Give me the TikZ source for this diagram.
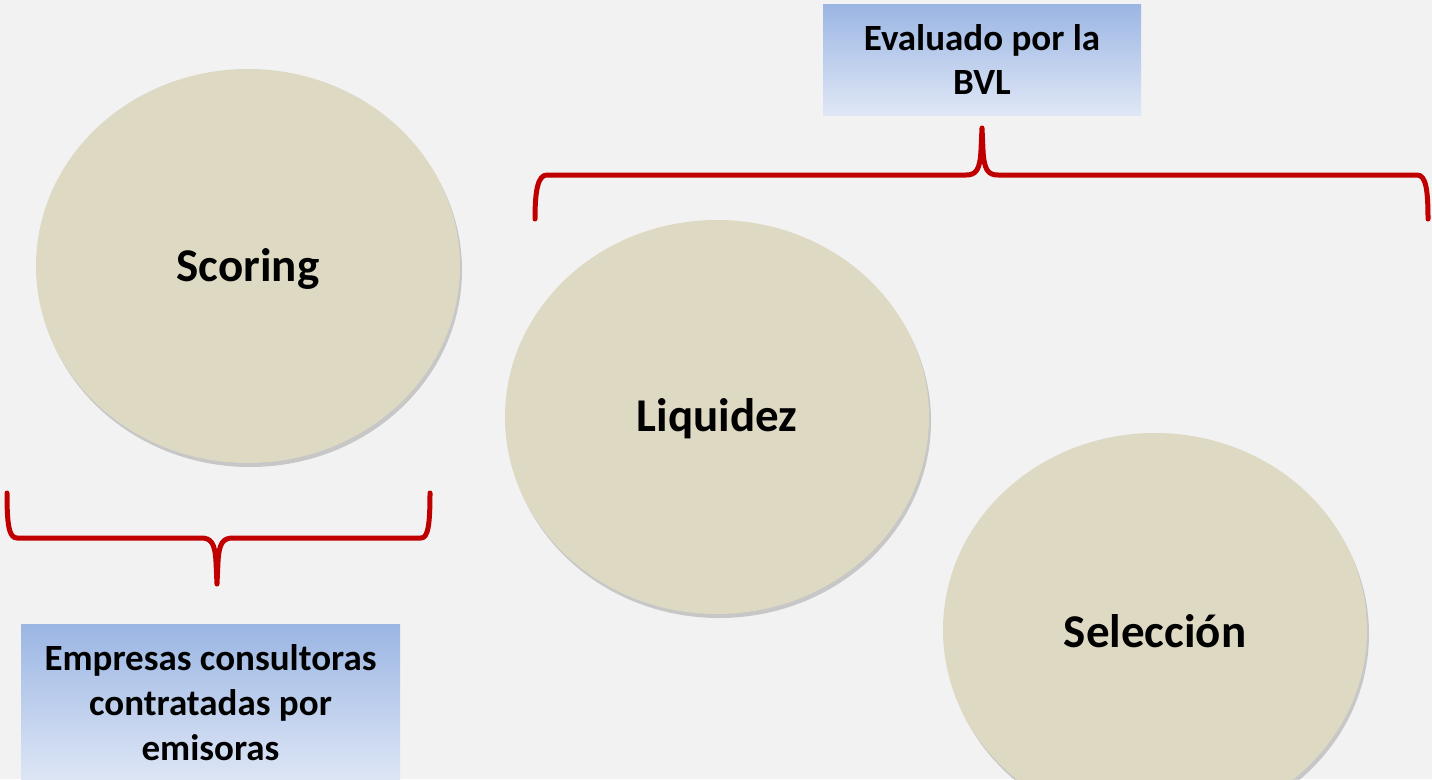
\documentclass[tikz,border=0pt]{standalone}
\usepackage{fontspec}
\setmainfont{Carlito}
\usetikzlibrary{shapes.geometric,shadows}
\definecolor{bgc}{HTML}{F2F2F2}
\definecolor{beige}{HTML}{DDD9C3}
\definecolor{bred}{HTML}{C00000}
\definecolor{btop}{HTML}{9BB6E3}
\definecolor{bbot}{HTML}{DFE7F6}
\tikzset{
  oval/.style={ellipse, fill=beige, minimum width=424pt, minimum height=394pt, inner sep=0pt,
    drop shadow={shadow xshift=2pt, shadow yshift=-4pt, opacity=0.3, fill=black!60}},
  ovaltext/.style={font=\fontsize{47}{52}\selectfont\bfseries, inner sep=0pt},
  infobox/.style={rectangle, top color=btop, bottom color=bbot, inner sep=0pt, align=center,
    font=\fontsize{37}{44}\selectfont\bfseries},
  brace/.style={draw=bred, line width=5pt, line cap=round, line join=round}
}
\begin{document}
\begin{tikzpicture}[x=1pt,y=-1pt]
\useasboundingbox (0,0) rectangle (1432,779);
\fill[bgc] (0,0) rectangle (1432,779);
\clip (0,0) rectangle (1432,779);
% ovals
\node[oval] (scoring) at (248,266) {};
\node[ovaltext] (scoringt) at (248,269) {Scoring};
\node[oval] (liquidez) at (717,417) {};
\node[ovaltext] (liquidezt) at (717,419) {Liquidez};
\node[oval] (seleccion) at (1155,630) {};
\node[ovaltext] (selecciont) at (1155,631) {Selección};
% boxes
\node[infobox, minimum width=318pt, minimum height=111pt] (bvl) at (982,59.5) {Evaluado por la\\BVL};
\node[infobox, minimum width=379pt, minimum height=160pt, anchor=north west] (emp) at (21,624) {};
\node[font=\fontsize{37}{45}\selectfont\bfseries, align=center] (emptext) at (210.5,703) {Empresas consultoras\\contratadas por\\emisoras};
% top brace
\coordinate (tb) at (982,128);
\draw[brace] (535,219) .. controls (535,190) and (538,175) .. (547,175) -- (966,175)
  .. controls (976,175) and (980,170) .. (981,150) -- (tb)
  -- (983,150) .. controls (984,170) and (988,175) .. (998,175) -- (1417,175)
  .. controls (1426,175) and (1428,190) .. (1428,219);
% bottom brace
\coordinate (bb) at (217,584);
\draw[brace] (7,493) .. controls (7,525) and (9,538) .. (17,538) -- (201,538)
  .. controls (211,538) and (215,543) .. (216,562) -- (bb)
  -- (218,562) .. controls (219,543) and (223,538) .. (233,538) -- (421,538)
  .. controls (428,538) and (430,525) .. (430,493);
\end{tikzpicture}
\end{document}
